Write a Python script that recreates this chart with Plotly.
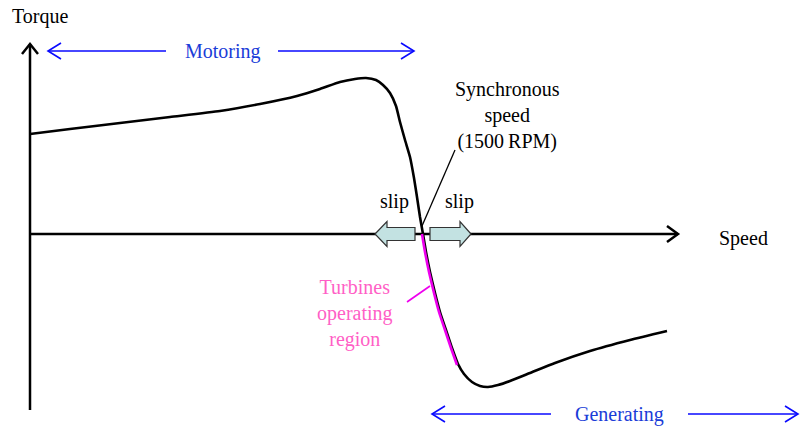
import plotly.graph_objects as go

# Torque–speed curve (arbitrary units; origin at axes crossing,
# synchronous speed at 393)
speed = [0, 40, 90, 140, 190, 230, 267, 290, 310, 325, 336, 346, 353, 360, 366, 370,
         375, 380, 384, 387, 390, 393, 396, 400, 405, 410, 416, 422, 428, 434, 442,
         450, 458, 468, 480, 500, 525, 560, 600, 637]
torque = [100, 105, 111, 117, 123, 130, 138, 145, 152, 155, 156, 154, 149, 141, 128, 112,
          94, 77, 56, 37, 17, 0, -18, -38, -59, -78, -96, -114, -130, -140, -148,
          -152, -153, -151, -147, -139, -129, -117, -106, -97]

# Turbines operating region (magenta segment)
turb_speed = [392, 395, 399, 404, 409, 415, 421, 427]
turb_torque = [0, -18, -38, -59, -78, -96, -114, -131]

SYNC = 393
FONT = "Liberation Serif"
BLUE_LINE = "#0a0aff"
BLUE_TEXT = "#1a3cd8"
PINK_TEXT = "#ff5fc6"
MAGENTA = "#ee00ee"

fig = go.Figure()

# main curve
fig.add_trace(go.Scatter(x=speed, y=torque, mode="lines",
                         line=dict(color="black", width=2.6, shape="spline", smoothing=0.5),
                         hoverinfo="skip"))
fig.add_trace(go.Scatter(x=turb_speed, y=turb_torque, mode="lines",
                         line=dict(color=MAGENTA, width=2.6, shape="spline", smoothing=0.5),
                         hoverinfo="skip"))

shapes = []
def line(x0, y0, x1, y1, color="black", width=2.5):
    shapes.append(dict(type="line", x0=x0, y0=y0, x1=x1, y1=y1,
                       line=dict(color=color, width=width), layer="below"))

def path(d, color="black", width=2.5, fill=None, layer="below"):
    s = dict(type="path", path=d, line=dict(color=color, width=width), layer=layer)
    if fill:
        s["fillcolor"] = fill
    shapes.append(s)

# axes with open arrowheads
line(0, -176, 0, 190)
path("M -8,180 L 0,190 L 8,180")
line(0, 0, 648, 0)
path("M 637,8 L 648,0 L 637,-8")

# Motoring arrow
line(18, 183, 136, 183, BLUE_LINE, 1.6)
line(248, 183, 384, 183, BLUE_LINE, 1.6)
path("M 31,191 L 18,183 L 31,175", BLUE_LINE, 1.6)
path("M 371,191 L 384,183 L 371,175", BLUE_LINE, 1.6)

# Generating arrow
line(402, -180, 521, -180, BLUE_LINE, 1.6)
line(658, -180, 768, -180, BLUE_LINE, 1.6)
path("M 415,-172 L 402,-180 L 415,-188", BLUE_LINE, 1.6)
path("M 755,-172 L 768,-180 L 755,-188", BLUE_LINE, 1.6)

# slip block arrows
SLIP_FILL = "#c3e2e2"
path("M 345,0 L 357,12.5 L 357,6.5 L 385,6.5 L 385,-6.5 L 357,-6.5 L 357,-12.5 Z",
     "#333333", 1.2, SLIP_FILL, "above")
path("M 441,0 L 430,12.5 L 430,6.5 L 400,6.5 L 400,-6.5 L 430,-6.5 L 430,-12.5 Z",
     "#333333", 1.2, SLIP_FILL, "above")

# leader lines
shapes.append(dict(type="line", x0=425, y0=84, x1=SYNC - 1, y1=8,
                   line=dict(color="black", width=1.3), layer="above"))
shapes.append(dict(type="line", x0=377, y0=-68, x1=400, y1=-52,
                   line=dict(color=MAGENTA, width=1.6), layer="above"))

annotations = [
    dict(x=-20, y=218, text="Torque", xanchor="left", font=dict(color="black")),
    dict(x=687, y=-4, text="Speed", xanchor="left", font=dict(color="black")),
    dict(x=193, y=183, text="Motoring", font=dict(color=BLUE_TEXT)),
    dict(x=589, y=-180, text="Generating", font=dict(color=BLUE_TEXT)),
    dict(x=477, y=119, text="Synchronous<br>speed<br>(1500\u2009RPM)", font=dict(color="black")),
    dict(x=325, y=-79, text="Turbines<br>operating<br>region", font=dict(color=PINK_TEXT)),
    dict(x=364, y=33, text="slip", font=dict(color="black")),
    dict(x=429, y=33, text="slip", font=dict(color="black")),
]
for a in annotations:
    a.update(showarrow=False, xref="x", yref="y")
    a["font"].update(family=FONT, size=20)
    a.setdefault("xanchor", "center")
    a.setdefault("yanchor", "middle")

fig.update_layout(
    width=800, height=430,
    margin=dict(l=0, r=0, t=0, b=0),
    paper_bgcolor="white", plot_bgcolor="white",
    showlegend=False,
    font=dict(family=FONT),
    shapes=shapes, annotations=annotations,
    xaxis=dict(range=[-30, 770], visible=False, fixedrange=True),
    yaxis=dict(range=[-196, 234], visible=False, fixedrange=True),
)

fig.write_html("out.html", config={"displayModeBar": False},
               post_script="document.body.style.margin='0';document.body.style.overflow='hidden';")
